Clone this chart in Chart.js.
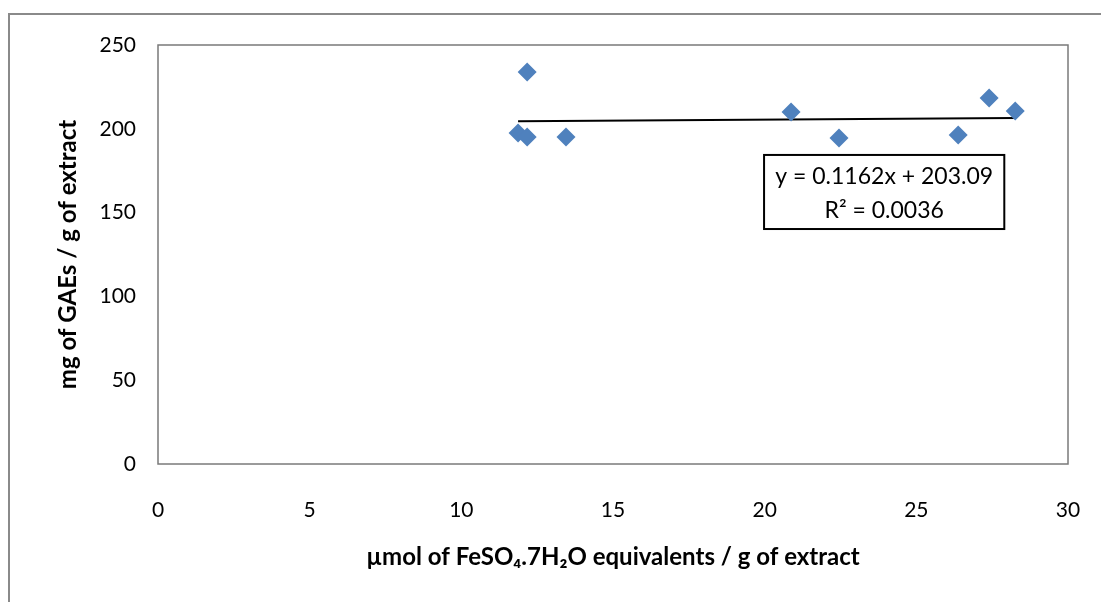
<!DOCTYPE html>
<html lang="en">
<head>
    <meta charset="UTF-8">
    <title>Scatter with trendline</title>
    <script src="https://cdn.jsdelivr.net/npm/chart.js"></script>
    <style>
        html, body { margin: 0; padding: 0; background: #fff; overflow: hidden; }
    </style>
</head>
<body>
    <canvas id="myChart" width="1101" height="602"></canvas>
    <script>
        // readings
        const xValues = [11.87, 12.17, 12.17, 13.45, 20.87, 22.45, 26.38, 27.4, 28.26];
        const yValues = [197.5, 233.9, 195.1, 195.1, 210.0, 194.5, 196.3, 218.4, 210.6];
        const xTicks = [0, 5, 10, 15, 20, 25, 30];
        const yTicks = [0, 50, 100, 150, 200, 250];
        const trendSlope = 0.1162;
        const trendIntercept = 203.09;
        const equationLines = ['y = 0.1162x + 203.09', 'R\u00b2 = 0.0036'];

        const FONT = 'Lato, "Liberation Sans", sans-serif';

        const points = xValues.map((x, i) => ({ x: x, y: yValues[i] }));
        const xMin = Math.min(...xValues);
        const xMax = Math.max(...xValues);
        const trendPoints = [
            { x: xMin, y: trendSlope * xMin + trendIntercept },
            { x: xMax, y: trendSlope * xMax + trendIntercept }
        ];

        const framePlugin = {
            id: 'frame',
            beforeDraw(chart) {
                const ctx = chart.ctx;
                ctx.save();
                ctx.strokeStyle = '#8a8a8a';
                ctx.lineWidth = 2;
                ctx.strokeRect(9, 14, 1300, 1300);
                ctx.restore();
            },
            afterDatasetsDraw(chart) {
                const ctx = chart.ctx;
                const a = chart.chartArea;
                ctx.save();
                ctx.strokeStyle = '#7a7a7a';
                ctx.lineWidth = 1.5;
                ctx.strokeRect(a.left, a.top, a.right - a.left, a.bottom - a.top);

                // equation label, placed in data units
                const xs = chart.scales.x, ys = chart.scales.y;
                const bx = xs.getPixelForValue(19.98), bx2 = xs.getPixelForValue(27.9);
                const by = ys.getPixelForValue(184.4), by2 = ys.getPixelForValue(140.2);
                ctx.fillStyle = '#fff';
                ctx.fillRect(bx, by, bx2 - bx, by2 - by);
                ctx.strokeStyle = '#000';
                ctx.lineWidth = 2;
                ctx.strokeRect(bx, by, bx2 - bx, by2 - by);
                ctx.fillStyle = '#000';
                ctx.font = '23px ' + FONT;
                ctx.textAlign = 'center';
                ctx.textBaseline = 'middle';
                const cx = (bx + bx2) / 2;
                ctx.fillText(equationLines[0], cx, by + 22);
                ctx.fillText(equationLines[1], cx, by + 56);
                ctx.restore();
            }
        };

        const ctx = document.getElementById('myChart').getContext('2d');
        new Chart(ctx, {
            type: 'scatter',
            data: {
                datasets: [
                    {
                        label: 'Samples',
                        data: points,
                        pointStyle: 'rectRot',
                        pointRadius: 9.5,
                        pointHoverRadius: 9.5,
                        backgroundColor: '#4f81bd',
                        borderColor: '#4f81bd',
                        borderWidth: 0,
                        order: 1
                    },
                    {
                        label: 'Linear trend',
                        type: 'line',
                        data: trendPoints,
                        borderColor: '#000',
                        borderWidth: 2,
                        pointRadius: 0,
                        fill: false,
                        order: 2
                    }
                ]
            },
            options: {
                responsive: false,
                animation: false,
                events: [],
                layout: { padding: { top: 45, right: 33, left: 54, bottom: 30 } },
                plugins: {
                    legend: { display: false },
                    tooltip: { enabled: false }
                },
                scales: {
                    x: {
                        type: 'linear',
                        min: 0,
                        max: 30,
                        afterBuildTicks(scale) { scale.ticks = xTicks.map(v => ({ value: v })); },
                        afterFit(scale) {
                            scale.height = 108;
                            // the big tick padding should only push labels down, not inwards
                            scale.paddingLeft = 12;
                            scale.paddingRight = 12;
                        },
                        grid: { display: false, drawTicks: false },
                        border: { display: false },
                        ticks: { color: '#000', padding: 34, font: { family: FONT, size: 21 } },
                        title: {
                            display: true,
                            text: '\u00b5mol of FeSO\u2084.7H\u2082O equivalents / g of extract',
                            color: '#000',
                            padding: { top: 0, bottom: 0 },
                            font: { family: FONT, size: 24, weight: 'bold' }
                        }
                    },
                    y: {
                        type: 'linear',
                        min: 0,
                        max: 250,
                        afterBuildTicks(scale) { scale.ticks = yTicks.map(v => ({ value: v })); },
                        afterFit(scale) { scale.width = 104; },
                        grid: { display: false, drawTicks: false },
                        border: { display: false },
                        ticks: { color: '#000', padding: 22, font: { family: FONT, size: 21 } },
                        title: {
                            display: true,
                            text: 'mg of GAEs / g of extract',
                            color: '#000',
                            padding: { top: 0, bottom: 0 },
                            font: { family: FONT, size: 24, weight: 'bold' }
                        }
                    }
                }
            },
            plugins: [framePlugin]
        });
    </script>
</body>
</html>
